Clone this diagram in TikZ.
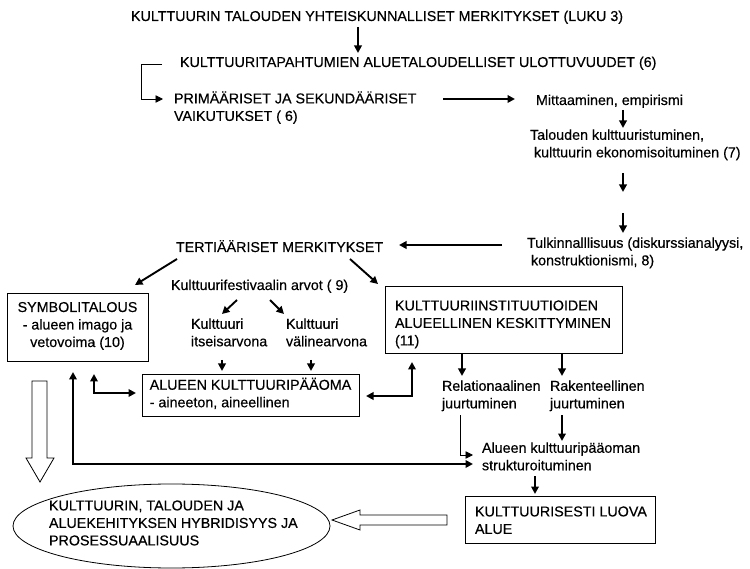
\documentclass[tikz,border=0pt]{standalone}
\usepackage{fontspec}
\setmainfont{Liberation Sans}[FakeBold=0.4]
\usetikzlibrary{arrows.meta,shapes.geometric}
% struts giving every text block the same top and bottom
\newcommand\topstrut{\rule{0pt}{12.6pt}}
\newcommand\botstrut{\rule[-5pt]{0pt}{5pt}}
\begin{document}
\begin{tikzpicture}[x=1pt,y=-1pt,
  lbl/.style={font=\fontsize{14.3}{17.5}\selectfont, inner sep=0pt, outer sep=0pt,
    align=left, anchor=north west, yshift=7.6pt,
    execute at begin node=\topstrut, execute at end node=\botstrut},
  frame/.style={draw, line width=0.8pt, inner sep=0pt, outer sep=0pt,
    anchor=north west, font=\fontsize{14.3}{17.5}\selectfont,
    execute at begin node=\topstrut, execute at end node=\botstrut},
  tip/.tip={Triangle[length=7.5pt,width=7.5pt]},
  arr/.style={line width=1.9pt, -tip},
  darr/.style={line width=1.9pt, tip-tip},
  thinarr/.style={line width=0.9pt, -tip},
  hollow/.style={draw, line width=0.8pt, fill=white, line join=miter},
]
\useasboundingbox (0,0) rectangle (750,569);

% ---- text nodes (placed by the centre of their first line) ----
\node[lbl] (t1)   at (131,16)  {KULTTUURIN TALOUDEN YHTEISKUNNALLISET MERKITYKSET (LUKU 3)};
\node[lbl] (t2)   at (180,62)  {KULTTUURITAPAHTUMIEN ALUETALOUDELLISET ULOTTUVUUDET (6)};
\node[lbl] (prim) at (174,99)  {PRIMÄÄRISET JA SEKUNDÄÄRISET\\VAIKUTUKSET ( 6)};
\node[lbl] (mitt) at (536,100) {Mittaaminen, empirismi};
\node[lbl] (tal)  at (530,137) {Talouden kulttuuristuminen,\\\hspace*{4pt}kulttuurin ekonomisoituminen (7)};
\node[lbl] (tulk) at (527,245) {Tulkinnalllisuus (diskurssianalyysi,\\\hspace*{4pt}konstruktionismi, 8)};
\node[lbl] (ter)  at (176,247) {TERTIÄÄRISET MERKITYKSET};
\node[lbl] (fest) at (171,285) {Kulttuurifestivaalin arvot ( 9)};
\node[lbl] (itse) at (191,326) {Kulttuuri\\itseisarvona};
\node[lbl] (vali) at (286,326) {Kulttuuri\\välinearvona};
\node[lbl] (rel)  at (442,388) {Relationaalinen\\juurtuminen};
\node[lbl] (rak)  at (550,388) {Rakenteellinen\\juurtuminen};
\node[lbl] (str)  at (482,450) {Alueen kulttuuripääoman\\strukturoituminen};

% ---- framed nodes ----
\node[frame, align=center, minimum width=141, minimum height=68] (sym) at (7,293)
  {SYMBOLITALOUS\\- alueen imago ja\\vetovoima (10)};
\node[frame, align=left, minimum width=217, minimum height=42] (alu) at (142,374)
  {ALUEEN KULTTUURIPÄÄOMA\\- aineeton, aineellinen};
\node[frame, minimum width=237, minimum height=67] (ki) at (385,286) {};
\node[lbl] (kit) at (395,308) {KULTTUURIINSTITUUTIOIDEN\\ALUEELLINEN KESKITTYMINEN\\(11)};
\node[frame, minimum width=190, minimum height=47] (luova) at (465,496) {};
\node[lbl] (luovat) at (475,514) {KULTTUURISESTI LUOVA\\ALUE};
\node[draw, line width=0.8pt, ellipse, inner sep=0pt, minimum width=317, minimum height=84] (ell) at (171.5,526) {};
\node[lbl] (ellt) at (49,508) {KULTTUURIN, TALOUDEN JA\\ALUEKEHITYKSEN HYBRIDISYYS JA\\PROSESSUAALISUUS};

% ---- connectors ----
\draw[arr] ([shift={(227,18.6)}]t1.north west) -- ([shift={(178,-1.4)}]t2.north west);
\draw[thinarr] ([shift={(-18,9.6)}]t2.north west) -- ++(-21,0) |- ([shift={(-11,7.6)}]prim.north west);
\draw[arr] ([shift={(269,7.6)}]prim.north west) -- ([shift={(-21,6.6)}]mitt.north west);
\draw[arr] ([shift={(87,17.6)}]mitt.north west) -- ([shift={(93,-1.4)}]tal.north west);
\draw[arr] ([shift={(93,43.6)}]tal.north west) -- ++(0,19);
\draw[arr] ([shift={(96,-24.4)}]tulk.north west) -- ([shift={(96,-4.4)}]tulk.north west);
\draw[arr] ([shift={(-25,7.6)}]tulk.north west) -- ([shift={(223,5.6)}]ter.north west);
\draw[arr] ([shift={(1,19.6)}]ter.north west) -- ([shift={(128,-8)}]sym.north west);
\draw[arr] ([shift={(174,19.6)}]ter.north west) -- ([shift={(-7,-2)}]ki.north west);
\draw[arr] ([shift={(66,22.6)}]fest.north west) -- ([shift={(31,-4.4)}]itse.north west);
\draw[arr] ([shift={(99,22.6)}]fest.north west) -- ([shift={(-2,-4.4)}]vali.north west);
\draw[arr] ([shift={(31,41.6)}]itse.north west) -- ([shift={(80,-3)}]alu.north west);
\draw[arr] ([shift={(25,41.6)}]vali.north west) -- ([shift={(169,-3)}]alu.north west);
\draw[arr] ([shift={(77,67)}]ki.north west) -- ([shift={(20,-4.4)}]rel.north west);
\draw[arr] ([shift={(177,67)}]ki.north west) -- ([shift={(12,-4.4)}]rak.north west);
\draw[thinarr] ([shift={(18,34.6)}]rel.north west) |- ([shift={(-9,12.6)}]str.north west);
\draw[arr] ([shift={(12,34.6)}]rak.north west) -- ([shift={(80,-1.4)}]str.north west);
\draw[arr] ([shift={(53,33.6)}]str.north west) -- ([shift={(70,-2)}]luova.north west);
\draw[darr] ([shift={(66,79)}]sym.north west) |- ([shift={(-9,21.6)}]str.north west);
\draw[darr] ([shift={(87,81)}]sym.north west) |- ([shift={(-6,19)}]alu.north west);
\draw[darr] ([shift={(224,22)}]alu.north west) -| ([shift={(27,76)}]ki.north west);

% ---- block arrows ----
\draw[hollow] (32,381) -- (47,381) -- (47,458) -- (54,458) -- (40,482) -- (26,458) -- (32,458) -- cycle;
\draw[hollow] (447,515) -- (360,515) -- (360,510) -- (332,520) -- (360,530) -- (360,525) -- (447,525) -- cycle;
\end{tikzpicture}
\end{document}
